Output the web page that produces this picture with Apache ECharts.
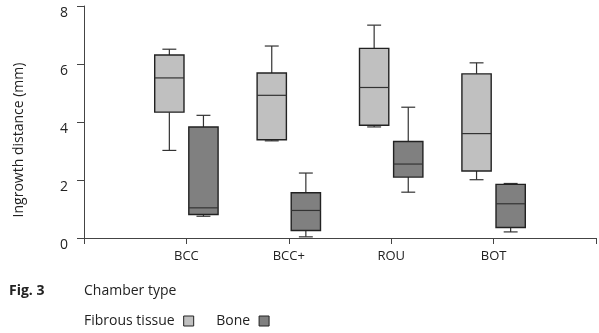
<!DOCTYPE html>
<html>
<head>
<meta charset="utf-8">
<script src="https://cdn.jsdelivr.net/npm/echarts@6/dist/echarts.min.js"></script>
<style>
  html, body { margin: 0; padding: 0; background: #fff; }
  #chart { width: 599px; height: 333px; }
</style>
</head>
<body>
<div id="chart"></div>
<script>
// ── Data ────────────────────────────────────────────────────────────────
const categories = ['BCC', 'BCC+', 'ROU', 'BOT'];
// [min, q1, median, q3, max] per chamber type
const fibrous = [
  [3.02, 4.34, 5.52, 6.31, 6.51],
  [3.35, 3.39, 4.92, 5.69, 6.62],
  [3.83, 3.89, 5.19, 6.54, 7.34],
  [2.01, 2.31, 3.60, 5.66, 6.04],
];
const bone = [
  [0.75, 0.81, 1.04, 3.83, 4.23],
  [0.04, 0.26, 0.95, 1.56, 2.24],
  [1.58, 2.10, 2.55, 3.33, 4.51],
  [0.21, 0.36, 1.18, 1.85, 1.88],
];
const yTicks = [0, 2, 4, 6, 8];

// ── Style ───────────────────────────────────────────────────────────────
const fontFamily = '"Open Sans", "DejaVu Sans", sans-serif';
const ink = '#222';
const lightFill = '#c0c0c0';
const darkFill = '#808080';

// axis slots: an empty one at the origin and one past the last category
const axisCats = [''].concat(categories, ['']);

const toRows = (arr) => arr.map((r, i) => [categories[i]].concat(r));

function boxRender(offsetFrac, fill) {
  return function (params, api) {
    const band = api.size([1, 0])[0];
    const base = api.coord([api.value(0), 0]);
    const cx = base[0] + band * offsetFrac;
    const py = (i) => api.coord([api.value(0), api.value(i)])[1];
    const yMin = py(1), yQ1 = py(2), yMed = py(3), yQ3 = py(4), yMax = py(5);
    const half = band * 0.143;
    const cap = band * 0.068;
    const line = (x1, y1, x2, y2) => ({
      type: 'line',
      shape: { x1, y1, x2, y2 },
      style: { stroke: '#333', lineWidth: 1.2 },
    });
    return {
      type: 'group',
      children: [
        line(cx, yMax, cx, yQ3),
        line(cx, yQ1, cx, yMin),
        line(cx - cap, yMax, cx + cap, yMax),
        line(cx - cap, yMin, cx + cap, yMin),
        {
          type: 'rect',
          shape: { x: cx - half, y: yQ3, width: half * 2, height: yQ1 - yQ3 },
          style: { fill, stroke: ink, lineWidth: 1.4 },
        },
        line(cx - half, yMed, cx + half, yMed),
      ],
    };
  };
}

const chart = echarts.init(document.getElementById('chart'), null, { renderer: 'canvas' });
chart.setOption({
  animation: false,
  textStyle: { fontFamily },
  grid: { left: 84, right: -2, top: 6, bottom: 95 },
  xAxis: {
    type: 'category',
    data: axisCats,
    boundaryGap: false,
    axisLine: { lineStyle: { color: '#444', width: 1 } },
    axisTick: { show: true, length: 6, interval: 0, lineStyle: { color: '#444' } },
    axisLabel: { interval: 0, fontSize: 13, color: ink, margin: 12, fontFamily },
    splitLine: { show: false },
  },
  yAxis: {
    type: 'value',
    min: yTicks[0],
    max: yTicks[yTicks.length - 1],
    interval: 2,
    name: 'Ingrowth distance (mm)',
    nameLocation: 'middle',
    nameGap: 58,
    nameTextStyle: { fontSize: 14, color: ink, fontFamily, padding: [0, 36, 0, 0] },
    axisLine: { show: true, lineStyle: { color: '#444', width: 1 } },
    axisTick: { show: true, length: 7, lineStyle: { color: '#444' } },
    axisLabel: { fontSize: 14, color: ink, margin: 16, fontFamily, verticalAlign: 'top' },
    splitLine: { show: false },
  },
  legend: {
    left: 84,
    top: 314,
    padding: 0,
    align: 'right',
    itemWidth: 10,
    itemHeight: 10,
    itemGap: 22,
    textStyle: { fontSize: 14, color: ink, fontFamily, padding: [0, 4, 0, 0] },
    data: [
      { name: 'Fibrous tissue', icon: 'rect', itemStyle: { color: lightFill, borderColor: ink, borderWidth: 1 } },
      { name: 'Bone', icon: 'rect', itemStyle: { color: darkFill, borderColor: ink, borderWidth: 1 } },
    ],
  },
  graphic: [
    { type: 'text', left: 9, top: 284, style: { text: 'Fig. 3', fontSize: 14, fontWeight: 'bold', fill: ink, fontFamily } },
    { type: 'text', left: 84, top: 284, style: { text: 'Chamber type', fontSize: 14, fill: ink, fontFamily } },
  ],
  series: [
    {
      name: 'Fibrous tissue',
      type: 'custom',
      renderItem: boxRender(-0.1665, lightFill),
      itemStyle: { color: lightFill },
      encode: { x: 0, y: [1, 2, 3, 4, 5] },
      data: toRows(fibrous),
    },
    {
      name: 'Bone',
      type: 'custom',
      renderItem: boxRender(0.1665, darkFill),
      itemStyle: { color: darkFill },
      encode: { x: 0, y: [1, 2, 3, 4, 5] },
      data: toRows(bone),
    },
  ],
});
</script>
</body>
</html>
